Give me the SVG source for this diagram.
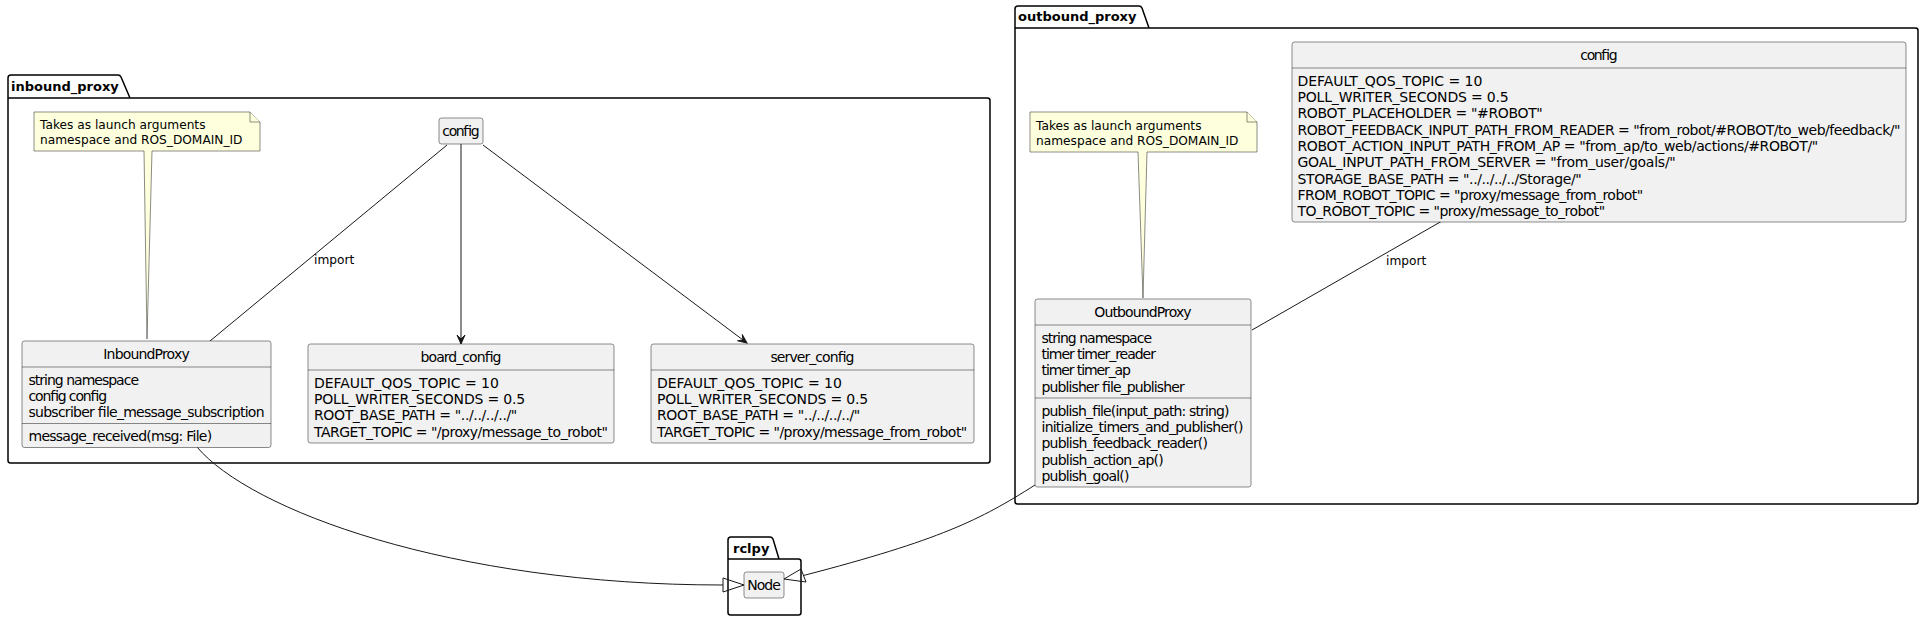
<svg xmlns="http://www.w3.org/2000/svg" width="1929" height="620" viewBox="0 0 1929 620">
<defs>
<style>
.pkg{fill:none;stroke:#000;stroke-width:1.5}
.pkgt{font-family:"DejaVu Sans","Liberation Sans",sans-serif;font-size:13px;font-weight:bold;fill:#000}
.cls{fill:#F1F1F1;stroke:#181818;stroke-width:0.5}
.div{stroke:#181818;stroke-width:0.5}
.t{font-family:"DejaVu Sans","Liberation Sans",sans-serif;font-size:14px;fill:#000}
.c{text-anchor:middle}
.note{fill:#FEFFDD;stroke:#181818;stroke-width:0.5}
.nt{font-family:"DejaVu Sans","Liberation Sans",sans-serif;font-size:12.2px;fill:#000}
.ln{fill:none;stroke:#181818;stroke-width:1}
.ext{fill:none;stroke:#181818;stroke-width:1}
</style>
<marker id="arr" viewBox="-10 -5 11 10" refX="0" refY="0" markerWidth="11" markerHeight="10" markerUnits="userSpaceOnUse" orient="auto">
<path d="M0,0 L-9,-4 L-5,0 L-9,4 Z" fill="#181818" stroke="#181818" stroke-width="1"/>
</marker>
</defs>
<rect width="1929" height="620" fill="#FFFFFF"/>

<g id="pkg-inbound_proxy">
<path class="pkg" d="M8,78 Q8,75 11,75 L118,75 Q120,75 121,77 L130,98 L987.5,98 Q990,98 990,100.5 L990,460.5 Q990,463 987.5,463 L10.5,463 Q8,463 8,460.5 Z M8,98 L130,98"/>
<text class="pkgt" x="11" y="91">inbound_proxy</text>
</g>

<g id="pkg-outbound_proxy">
<path class="pkg" d="M1015,9 Q1015,6 1018,6 L1139,6 Q1141,6 1142,8 L1149,28 L1915.5,28 Q1918,28 1918,30.5 L1918,501.5 Q1918,504 1915.5,504 L1017.5,504 Q1015,504 1015,501.5 Z M1015,28 L1149,28"/>
<text class="pkgt" x="1018" y="21">outbound_proxy</text>
</g>

<g id="pkg-rclpy">
<path class="pkg" d="M728,540 Q728,537 731,537 L770,537 Q772,537 773,539 L779,559 L798.5,559 Q801,559 801,561.5 L801,612.5 Q801,615 798.5,615 L730.5,615 Q728,615 728,612.5 Z M728,559 L779,559"/>
<text class="pkgt" x="733" y="553">rclpy</text>
</g>

<g id="connectors">
<path class="ln" d="M447,145 L210,341"/>
<text class="nt" x="314" y="264">import</text>
<path class="ln" d="M461,144 L461,344" marker-end="url(#arr)"/>
<path class="ln" d="M483,145 L747,343" marker-end="url(#arr)"/>
<path class="ln" d="M1442,221 L1252,330"/>
<text class="nt" x="1386" y="265">import</text>
<path class="ln" d="M197,447 C250,510 450,585 723,585"/>
<polygon class="ext" points="744,585 723,578 723,592"/>
<path class="ln" d="M1035,485 C980,520 940,540 803.5,575.5"/>
<polygon class="ext" points="784,579 801,569 806,582"/>
</g>

<g id="note-inbound">
<path class="note" d="M34,112 L250,112 L260,122 L260,151 L152,151 L147,339 L144,151 L34,151 Z"/>
<path class="note" d="M250,112 L250,122 L260,122"/>
<text class="nt" x="40" y="129">Takes as launch arguments</text>
<text class="nt" x="40" y="144">namespace and ROS_DOMAIN_ID</text>
</g>

<g id="note-outbound">
<path class="note" d="M1030,112 L1247,112 L1257,122 L1257,152 L1147,152 L1143,298 L1138,152 L1030,152 Z"/>
<path class="note" d="M1247,112 L1247,122 L1257,122"/>
<text class="nt" x="1036" y="129.5">Takes as launch arguments</text>
<text class="nt" x="1036" y="144.5">namespace and ROS_DOMAIN_ID</text>
</g>

<g id="inbound-config">
<rect class="cls" x="439" y="118" width="44" height="26" rx="2.5"/>
<text class="t c" x="461" y="136" textLength="37.4" lengthAdjust="spacing">config</text>
</g>

<g id="InboundProxy">
<rect class="cls" x="22" y="341" width="249" height="106.5" rx="2.5"/>
<line class="div" x1="22" y1="367" x2="271" y2="367"/>
<line class="div" x1="22" y1="423.5" x2="271" y2="423.5"/>
<text class="t c" x="146.5" y="359" textLength="86.4" lengthAdjust="spacing">InboundProxy</text>
<text class="t" x="28.5" y="384.8" textLength="110.5" lengthAdjust="spacing">string namespace</text>
<text class="t" x="28.5" y="401.1" textLength="78.6" lengthAdjust="spacing">config config</text>
<text class="t" x="28.5" y="417.4" textLength="236" lengthAdjust="spacing">subscriber file_message_subscription</text>
<text class="t" x="28.5" y="441.3" textLength="183.6" lengthAdjust="spacing">message_received(msg: File)</text>
</g>

<g id="board_config">
<rect class="cls" x="308" y="344" width="306" height="99" rx="2.5"/>
<line class="div" x1="308" y1="370" x2="614" y2="370"/>
<text class="t c" x="461" y="362" textLength="80.9" lengthAdjust="spacing">board_config</text>
<text class="t" x="314" y="387.8" textLength="184.8" lengthAdjust="spacing">DEFAULT_QOS_TOPIC = 10</text>
<text class="t" x="314" y="404.1" textLength="211.2" lengthAdjust="spacing">POLL_WRITER_SECONDS = 0.5</text>
<text class="t" x="314" y="420.4" textLength="203.3" lengthAdjust="spacing">ROOT_BASE_PATH = "../../../../"</text>
<text class="t" x="314" y="436.7" textLength="294" lengthAdjust="spacing">TARGET_TOPIC = "/proxy/message_to_robot"</text>
</g>

<g id="server_config">
<rect class="cls" x="651" y="344" width="323" height="99" rx="2.5"/>
<line class="div" x1="651" y1="370" x2="974" y2="370"/>
<text class="t c" x="812.5" y="362" textLength="84" lengthAdjust="spacing">server_config</text>
<text class="t" x="657" y="387.8" textLength="184.8" lengthAdjust="spacing">DEFAULT_QOS_TOPIC = 10</text>
<text class="t" x="657" y="404.1" textLength="211.2" lengthAdjust="spacing">POLL_WRITER_SECONDS = 0.5</text>
<text class="t" x="657" y="420.4" textLength="203.3" lengthAdjust="spacing">ROOT_BASE_PATH = "../../../../"</text>
<text class="t" x="657" y="436.7" textLength="310.3" lengthAdjust="spacing">TARGET_TOPIC = "/proxy/message_from_robot"</text>
</g>

<g id="outbound-config">
<rect class="cls" x="1292" y="42" width="614" height="180" rx="2.5"/>
<line class="div" x1="1292" y1="68" x2="1906" y2="68"/>
<text class="t c" x="1599" y="60" textLength="37.4" lengthAdjust="spacing">config</text>
<text class="t" x="1297.5" y="85.8" textLength="184.8" lengthAdjust="spacing">DEFAULT_QOS_TOPIC = 10</text>
<text class="t" x="1297.5" y="102.1" textLength="211.2" lengthAdjust="spacing">POLL_WRITER_SECONDS = 0.5</text>
<text class="t" x="1297.5" y="118.4" textLength="245.3" lengthAdjust="spacing">ROBOT_PLACEHOLDER = "#ROBOT"</text>
<text class="t" x="1297.5" y="134.7" textLength="603" lengthAdjust="spacing">ROBOT_FEEDBACK_INPUT_PATH_FROM_READER = "from_robot/#ROBOT/to_web/feedback/"</text>
<text class="t" x="1297.5" y="151" textLength="520.7" lengthAdjust="spacing">ROBOT_ACTION_INPUT_PATH_FROM_AP = "from_ap/to_web/actions/#ROBOT/"</text>
<text class="t" x="1297.5" y="167.3" textLength="378.3" lengthAdjust="spacing">GOAL_INPUT_PATH_FROM_SERVER = "from_user/goals/"</text>
<text class="t" x="1297.5" y="183.6" textLength="284.2" lengthAdjust="spacing">STORAGE_BASE_PATH = "../../../../Storage/"</text>
<text class="t" x="1297.5" y="199.9" textLength="345.6" lengthAdjust="spacing">FROM_ROBOT_TOPIC = "proxy/message_from_robot"</text>
<text class="t" x="1297.5" y="216.2" textLength="307.6" lengthAdjust="spacing">TO_ROBOT_TOPIC = "proxy/message_to_robot"</text>
</g>

<g id="OutboundProxy">
<rect class="cls" x="1035" y="299" width="216" height="188" rx="2.5"/>
<line class="div" x1="1035" y1="325" x2="1251" y2="325"/>
<line class="div" x1="1035" y1="398" x2="1251" y2="398"/>
<text class="t c" x="1143" y="317" textLength="97.3" lengthAdjust="spacing">OutboundProxy</text>
<text class="t" x="1041.5" y="342.8" textLength="110.5" lengthAdjust="spacing">string namespace</text>
<text class="t" x="1041.5" y="359.1" textLength="114.4" lengthAdjust="spacing">timer timer_reader</text>
<text class="t" x="1041.5" y="375.4" textLength="89.5" lengthAdjust="spacing">timer timer_ap</text>
<text class="t" x="1041.5" y="391.7" textLength="143.2" lengthAdjust="spacing">publisher file_publisher</text>
<text class="t" x="1041.5" y="415.8" textLength="188" lengthAdjust="spacing">publish_file(input_path: string)</text>
<text class="t" x="1041.5" y="432.1" textLength="202" lengthAdjust="spacing">initialize_timers_and_publisher()</text>
<text class="t" x="1041.5" y="448.4" textLength="166.5" lengthAdjust="spacing">publish_feedback_reader()</text>
<text class="t" x="1041.5" y="464.7" textLength="122.2" lengthAdjust="spacing">publish_action_ap()</text>
<text class="t" x="1041.5" y="481" textLength="87.9" lengthAdjust="spacing">publish_goal()</text>
</g>

<g id="Node">
<rect class="cls" x="744" y="572" width="40" height="26" rx="2.5"/>
<text class="t c" x="764" y="590" textLength="33.5" lengthAdjust="spacing">Node</text>
</g>
</svg>
